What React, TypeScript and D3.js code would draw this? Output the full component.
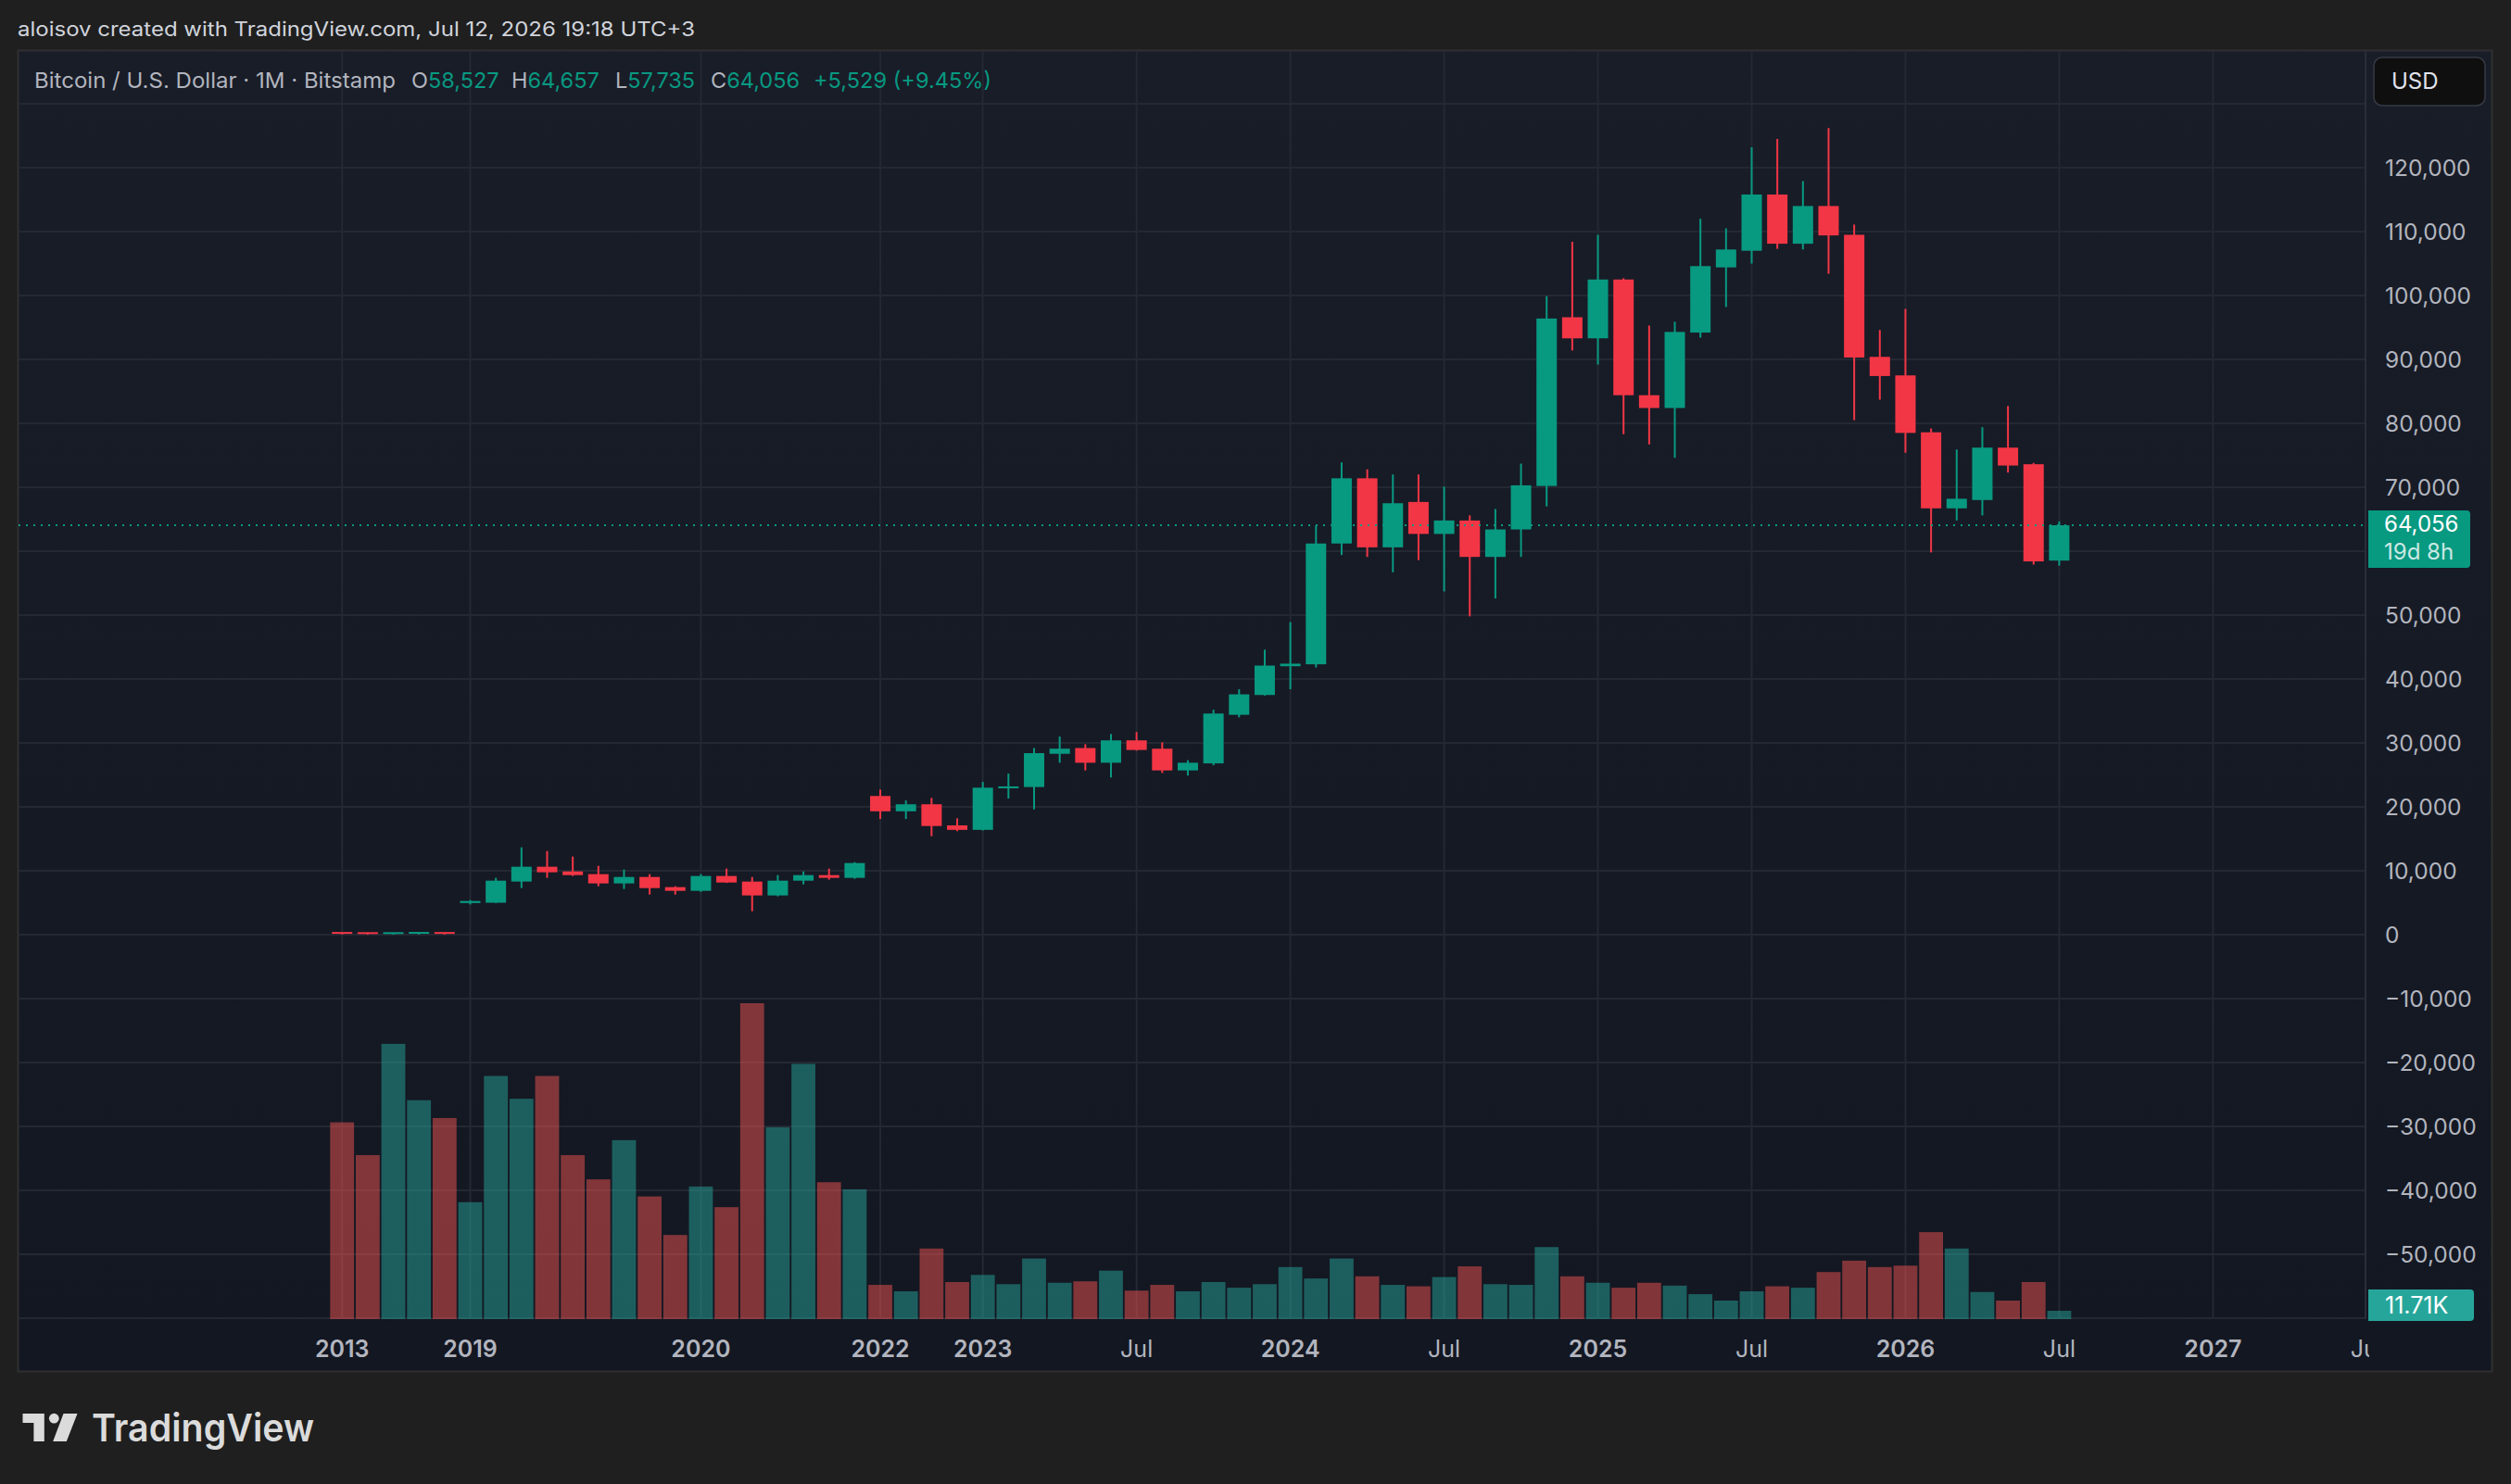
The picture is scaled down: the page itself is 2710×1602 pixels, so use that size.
import React, { useEffect, useRef } from 'react'
import * as d3 from 'd3'

const W = 2710
const H = 1602

// monthly candles, left to right (slot index = array index)
const opens = [160, 130, 100, 140, 170, 4950, 5000, 8310, 10630, 9900, 9470, 8020, 9030, 7440, 6860, 9180, 8310, 6140, 8450, 9320, 8890,
    21700, 19300, 20400, 17100, 16400, 22900, 23100, 28300, 29200, 26900, 30400, 29100, 25700, 26800, 34400, 37500, 42000, 42300, 61200, 71400,
    60600, 67700, 62700, 64800, 59100, 63400, 70200, 96600, 93300, 102500, 84400, 82400, 94200, 104400, 107000, 115800, 108100, 114000, 109500,
    90400, 87500, 78600, 66700, 68000, 76200, 73600, 58527]
const highs = [170, 140, 150, 180, 175, 5410, 8900, 13670, 13090, 12220, 10770, 10190, 9470, 7580, 9470, 10340, 9030, 9320, 9900, 10340, 11350,
    22700, 21000, 21400, 18200, 23900, 25200, 29200, 31000, 29800, 31400, 31700, 30100, 27300, 35200, 38400, 44600, 48900, 64000, 73900, 72800,
    72000, 72000, 70100, 65600, 66600, 73700, 99900, 108400, 109500, 102700, 95300, 95900, 112000, 110500, 123200, 124500, 117900, 126200, 111100,
    94600, 97900, 79200, 75900, 79400, 82700, 73800, 64657]
const lows = [120, 95, 95, 130, 120, 4730, 4950, 7290, 8890, 9180, 7580, 7150, 6280, 6280, 6710, 8100, 3670, 6000, 7870, 8600, 8740,
    18100, 18100, 15400, 16200, 16300, 21300, 19600, 26900, 25700, 24600, 28800, 25300, 24900, 26500, 34000, 37400, 38400, 41800, 59400, 59100,
    56700, 58600, 53700, 49800, 52600, 59100, 67000, 91400, 89200, 78300, 76700, 74600, 93400, 98200, 105000, 107300, 107200, 103400, 80500,
    83700, 75400, 59800, 64800, 65600, 72300, 57900, 57735]
const closes = [130, 100, 140, 170, 125, 5270, 8450, 10630, 9760, 9320, 8020, 9030, 7290, 6860, 9180, 8160, 6140, 8450, 9320, 8890, 11210,
    19300, 20400, 17000, 16400, 23000, 23200, 28400, 29100, 26900, 30400, 28900, 25700, 26900, 34600, 37600, 42100, 42400, 61200, 71400, 60600,
    67500, 62700, 64800, 59100, 63400, 70300, 96400, 93300, 102500, 84400, 82400, 94300, 104600, 107200, 115800, 108100, 114000, 109400, 90300,
    87400, 78500, 66700, 68200, 76200, 73400, 58400, 64056]
// volume, thousands of BTC
const volumes = [276, 230, 386, 307, 282, 164, 341, 309, 341, 230, 196, 251, 172, 118, 186, 157, 443, 269, 358, 192, 182,
    48, 39, 99, 52, 62, 49, 85, 51, 53, 68, 40, 48, 39, 52, 44, 49, 73, 57, 85, 60,
    48, 46, 59, 74, 49, 48, 101, 60, 51, 44, 51, 47, 35, 26, 39, 46, 44, 66, 82,
    73, 75, 122, 99, 38, 26, 52, 11.71]

const timeTickIndex = [0, 5, 14, 21, 25, 31, 37, 43, 49, 55, 61, 67, 73, 79]
const timeTickLabels = ['2013', '2019', '2020', '2022', '2023', 'Jul', '2024', 'Jul', '2025', 'Jul', '2026', 'Jul', '2027', 'Jul']
const priceGrid = [130000, 120000, 110000, 100000, 90000, 80000, 70000, 60000, 50000, 40000, 30000, 20000, 10000, 0,
    -10000, -20000, -30000, -40000, -50000, -60000]
const priceLabelTicks = [120000, 110000, 100000, 90000, 80000, 70000, 60000, 50000, 40000, 30000, 20000, 10000, 0,
    -10000, -20000, -30000, -40000, -50000]

const headerText = 'aloisov created with TradingView.com, Jul 12, 2026 19:18 UTC+3'
const symbolText = 'Bitcoin / U.S. Dollar · 1M · Bitstamp'
const legendItems = [['O', '58,527'], ['H', '64,657'], ['L', '57,735'], ['C', '64,056']]
const changeText = '+5,529 (+9.45%)'
const lastPrice = 64056
const countdown = '19d 8h'
const lastVolumeText = '11.71K'

const UP = '#089981'
const DOWN = '#f23645'
const FONT = 'Inter, "Noto Sans", sans-serif'

const App = () => {
    const svgRef = useRef<SVGSVGElement>(null)

    useEffect(() => {
        document.body.style.margin = '0'
        document.body.style.background = '#1f1f1f'
        const svg: any = d3.select(svgRef.current)
        svg.selectAll('*').remove()

        const left = 20, right = 2553, top = 55, bottom = 1424, panelBottom = 1481

        const x = d3.scaleLinear().domain([0, 79]).range([369.2, 369.2 + 27.66 * 79])
        const y = d3.scaleLinear().domain([0, 120000]).range([1009, 1009 - 12 * 69.0])
        const yVol = d3.scaleLinear().domain([0, 443]).range([bottom, 1083])
        const fmt = (v: number) => d3.format(',')(v).replace('-', '\u2212')

        const defs = svg.append('defs')
        const grad = defs.append('linearGradient').attr('id', 'bg').attr('x1', 0).attr('x2', 0).attr('y1', 0).attr('y2', 1)
        grad.append('stop').attr('offset', '0%').attr('stop-color', '#191d28')
        grad.append('stop').attr('offset', '100%').attr('stop-color', '#131722')
        defs.append('clipPath').attr('id', 'plot').append('rect')
            .attr('x', left).attr('y', top).attr('width', right - left).attr('height', bottom - top)
        defs.append('clipPath').attr('id', 'taxis').append('rect')
            .attr('x', left).attr('y', bottom).attr('width', right - left + 4).attr('height', panelBottom - bottom)

        // page + panel
        svg.append('rect').attr('width', W).attr('height', H).attr('fill', '#1f1f1f')
        svg.append('text').attr('x', 19).attr('y', 39).attr('fill', '#d1d4dc')
            .attr('font-size', 21).attr('textLength', 731).attr('lengthAdjust', 'spacingAndGlyphs')
            .text(headerText)
        svg.append('rect').attr('x', 19.5).attr('y', 54.5).attr('width', 2670).attr('height', 1426)
            .attr('fill', 'url(#bg)').attr('stroke', '#303030').attr('stroke-width', 2)

        const plot = svg.append('g').attr('clip-path', 'url(#plot)')

        // grid
        plot.selectAll('line.h').data(priceGrid).join('line')
            .attr('x1', left).attr('x2', right).attr('y1', (d: number) => y(d)).attr('y2', (d: number) => y(d))
            .attr('stroke', '#242833').attr('stroke-width', 2)
        plot.selectAll('line.v').data(timeTickIndex).join('line')
            .attr('x1', (d: number) => x(d)).attr('x2', (d: number) => x(d)).attr('y1', top).attr('y2', bottom)
            .attr('stroke', '#242833').attr('stroke-width', 2)

        // volume
        plot.append('g').selectAll('rect').data(volumes).join('rect')
            .attr('x', (_: number, i: number) => x(i) - 12.9)
            .attr('width', 25.8)
            .attr('y', (d: number) => yVol(d))
            .attr('height', (d: number) => bottom - yVol(d))
            .attr('fill', (_: number, i: number) => closes[i] >= opens[i] ? '#26a69a' : '#ef5350')
            .attr('fill-opacity', 0.5)

        // candles
        const idx = d3.range(opens.length)
        const cg = plot.append('g')
        cg.selectAll('rect.w').data(idx).join('rect')
            .attr('x', (i: number) => x(i) - 1)
            .attr('width', 2)
            .attr('y', (i: number) => y(highs[i]))
            .attr('height', (i: number) => Math.max(1, y(lows[i]) - y(highs[i])))
            .attr('fill', (i: number) => closes[i] >= opens[i] ? UP : DOWN)
        cg.selectAll('rect.b').data(idx).join('rect')
            .attr('x', (i: number) => x(i) - 11)
            .attr('width', 22)
            .attr('y', (i: number) => Math.min(y(Math.max(opens[i], closes[i])), y(Math.min(opens[i], closes[i])) - 2))
            .attr('height', (i: number) => Math.max(2, Math.abs(y(opens[i]) - y(closes[i]))))
            .attr('fill', (i: number) => closes[i] >= opens[i] ? UP : DOWN)

        // last price line
        const py = y(lastPrice)
        plot.append('line').attr('x1', left).attr('x2', right)
            .attr('y1', py).attr('y2', py)
            .attr('stroke', UP).attr('stroke-width', 2).attr('stroke-dasharray', '2 6')

        // price axis (labels under the last-price badge are hidden, as on the reference)
        svg.append('line').attr('x1', right).attr('x2', right).attr('y1', top).attr('y2', bottom)
            .attr('stroke', '#2a2e39').attr('stroke-width', 2)
        svg.append('g').selectAll('text')
            .data(priceLabelTicks.filter(d => Math.abs(y(d) - (py + 15)) > 44))
            .join('text')
            .attr('x', 2574).attr('y', (d: number) => y(d)).attr('dy', '0.35em')
            .attr('fill', '#b2b5be').attr('font-size', 24.5)
            .text((d: number) => fmt(d))

        // USD button
        svg.append('rect').attr('x', 2562).attr('y', 62).attr('width', 120).attr('height', 52).attr('rx', 9)
            .attr('fill', '#0f0f0f').attr('stroke', '#363a45').attr('stroke-width', 1.5)
        svg.append('text').attr('x', 2581).attr('y', 88).attr('dy', '0.35em').attr('fill', '#e0e3eb')
            .attr('font-size', 24).text('USD')

        // last price badge
        svg.append('path')
            .attr('d', `M2556,${py - 16}h106a4,4 0 0 1 4,4v54a4,4 0 0 1 -4,4h-106z`)
            .attr('fill', UP)
        svg.append('text').attr('x', 2573).attr('y', py - 1).attr('dy', '0.35em').attr('fill', '#ffffff')
            .attr('font-size', 24).text(fmt(lastPrice))
        svg.append('text').attr('x', 2573).attr('y', py + 29).attr('dy', '0.35em').attr('fill', 'rgba(255,255,255,0.8)')
            .attr('font-size', 24).text(countdown)

        // last volume badge
        const vy = Math.min(yVol(volumes[volumes.length - 1]), bottom - 15)
        svg.append('path')
            .attr('d', `M2556,${vy - 17}h110a4,4 0 0 1 4,4v26a4,4 0 0 1 -4,4h-110z`)
            .attr('fill', '#26a69a')
        svg.append('text').attr('x', 2574).attr('y', vy).attr('dy', '0.35em').attr('fill', '#ffffff')
            .attr('font-size', 25).text(lastVolumeText)

        // time axis
        svg.append('g').attr('clip-path', 'url(#taxis)').selectAll('text').data(timeTickIndex).join('text')
            .attr('x', (d: number) => x(d)).attr('y', 1456).attr('dy', '0.35em')
            .attr('text-anchor', 'middle').attr('fill', '#b2b5be').attr('font-size', 25)
            .attr('font-weight', (_: number, i: number) => timeTickLabels[i] === 'Jul' ? 400 : 600)
            .text((_: number, i: number) => timeTickLabels[i])

        // legend
        const lg = svg.append('g').attr('font-size', 23.5)
        lg.append('text').attr('x', 37).attr('y', 95).attr('fill', '#b2b5be')
            .attr('textLength', 390).attr('lengthAdjust', 'spacingAndGlyphs').text(symbolText)
        const legendX = [444, 552, 664, 767]
        legendItems.forEach(([k, v], i) => {
            const t = lg.append('text').attr('x', legendX[i]).attr('y', 95)
            t.append('tspan').attr('fill', '#b2b5be').text(k)
            t.append('tspan').attr('fill', UP).text(v)
        })
        lg.append('text').attr('x', 878).attr('y', 95).attr('fill', UP)
            .attr('textLength', 192).attr('lengthAdjust', 'spacingAndGlyphs').text(changeText)

        // TradingView logo
        const logo = svg.append('g').attr('fill', '#dbdbdb')
        logo.append('path').attr('d', 'M24.5,1526H47.8V1556H36.4V1536H24.5Z')
        logo.append('circle').attr('cx', 58.3).attr('cy', 1531.2).attr('r', 5.4)
        logo.append('path').attr('d', 'M68.5,1526H83.5L71.8,1556H57.2Z')
        logo.append('text').attr('x', 99).attr('y', 1556).attr('font-size', 41).attr('font-weight', 600)
            .attr('textLength', 240).attr('lengthAdjust', 'spacingAndGlyphs').text('TradingView')
    }, [])

    return (
        <svg ref={svgRef} width={W} height={H} style={{ display: 'block', fontFamily: FONT }} />
    )
}

export default App
